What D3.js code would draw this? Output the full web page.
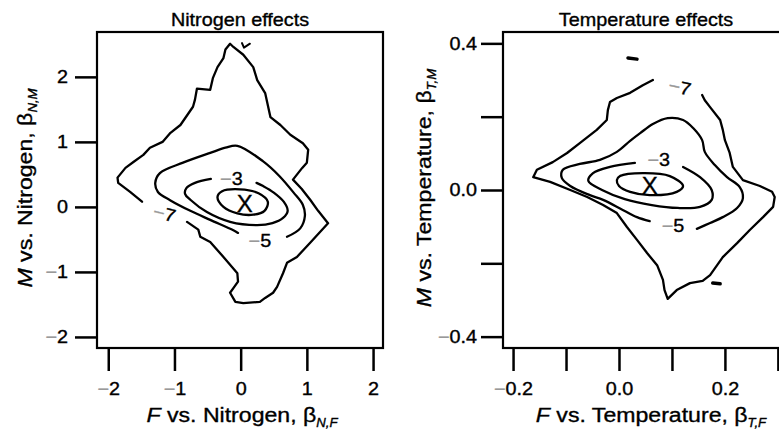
<!DOCTYPE html>
<html>
<head>
<meta charset="utf-8">
<script src="https://cdn.jsdelivr.net/npm/d3@7"></script>
<style>
  body { margin: 0; background: #fff; }
  svg { display: block; font-family: "Liberation Sans", Arial, Helvetica, sans-serif; }
  text { stroke: #000; stroke-width: 0.35px; }
  tspan.grey { fill: #999; stroke: #999; }
</style>
</head>
<body>
<svg id="chart" width="779" height="431"></svg>
<script>
// ---- data ----
// Nitrogen panel: contour lines as [beta_NF, beta_NM]
var nitroXTicks = [-2, -1, 0, 1, 2];
var nitroYTicks = [-2, -1, 0, 1, 2];

var nitroC7 = [[-0.81,-0.23],[-0.64,-0.35],[-0.61,-0.46],[-0.46,-0.54],[-0.26,-0.77],[-0.05,-1.02],
  [-0.04,-1.15],[-0.11,-1.25],[-0.16,-1.32],[-0.08,-1.46],[0.04,-1.48],[0.29,-1.46],[0.37,-1.40],
  [0.49,-1.32],[0.55,-1.23],[0.64,-1.02],[0.70,-0.86],[0.85,-0.77],[1.05,-0.55],[1.32,-0.25],
  [1.17,-0.06],[1.05,0.11],[0.92,0.28],[0.79,0.42],[0.93,0.60],[1.00,0.68],[1.02,0.88],[0.94,0.98],
  [0.75,1.11],[0.60,1.26],[0.45,1.38],[0.37,1.75],[0.25,1.95],[0.19,2.15],[0.04,2.34],[-0.11,2.46],
  [-0.16,2.51],[-0.23,2.42],[-0.26,2.29],[-0.35,2.15],[-0.42,1.98],[-0.46,1.80],[-0.66,1.82],
  [-0.69,1.65],[-0.72,1.54],[-0.91,1.26],[-1.06,1.14],[-1.18,1.00],[-1.37,0.91],[-1.47,0.80],
  [-1.62,0.69],[-1.74,0.60],[-1.86,0.45],[-1.85,0.37],[-1.67,0.23],[-1.49,0.08]];
var nitroC5 = [[0.70,-0.46],[0.90,-0.33],[0.97,-0.14],[0.94,0.03],[0.80,0.22],[0.58,0.48],
  [0.34,0.70],[-0.05,0.94],[-0.23,0.91],[-0.46,0.83],[-0.87,0.68],[-1.22,0.52],[-1.29,0.37],
  [-1.25,0.23],[-1.06,0.10],[-0.76,-0.06],[-0.46,-0.20],[-0.11,-0.36],[-0.04,-0.40]];
var nitroC3 = [[-0.45,0.43],[-0.69,0.37],[-0.82,0.29],[-0.84,0.20],[-0.76,0.11],[-0.51,-0.08],
  [-0.16,-0.23],[0.25,-0.28],[0.48,-0.25],[0.64,-0.17],[0.71,-0.06],[0.65,0.08],[0.50,0.22],
  [0.34,0.32],[0.24,0.37]];
var nitroC1 = [[-0.35,0.15],[-0.28,0.24],[-0.01,0.27],[0.27,0.21],[0.41,0.08],[0.36,-0.06],
  [0.19,-0.12],[-0.05,-0.10],[-0.26,0.00]];
var nitroFrag = [[0.02,2.52],[0.05,2.45],[0.14,2.51]];
var nitroLabels = [{x: -0.14, y: 0.44, t: "−3", r: 0}, {x: 0.29, y: -0.52, t: "−5", r: 0},
  {x: -1.15, y: -0.10, t: "−7", r: 14}];
var nitroMax = [0.06, 0.06];

// Temperature panel: contour lines as [beta_TF, beta_TM]
var tempXTicks = [-0.2, -0.1, 0, 0.1, 0.2, 0.3];
var tempXLabelled = [-0.2, 0, 0.2];
var tempYTicks = [-0.4, -0.2, 0, 0.2, 0.4];
var tempYLabelled = [-0.4, 0, 0.4];

var tempC7 = [[0.157,0.259],[0.162,0.245],[0.172,0.226],[0.191,0.191],[0.196,0.164],[0.200,0.136],
  [0.209,0.101],[0.215,0.063],[0.234,0.027],[0.266,0.011],[0.289,-0.005],[0.294,-0.019],
  [0.291,-0.046],[0.272,-0.074],[0.247,-0.109],[0.223,-0.145],[0.196,-0.183],[0.172,-0.232],
  [0.158,-0.248],[0.134,-0.254],[0.109,-0.273],[0.092,-0.297],[0.086,-0.273],[0.083,-0.245],
  [0.072,-0.205],[0.053,-0.172],[0.034,-0.136],[0.015,-0.101],[-0.004,-0.063],[-0.030,-0.041],
  [-0.060,-0.019],[-0.092,0.000],[-0.130,0.022],[-0.162,0.035],[-0.155,0.055],[-0.125,0.076],
  [-0.098,0.101],[-0.074,0.128],[-0.042,0.164],[-0.023,0.191],[-0.021,0.218],[-0.017,0.240],
  [-0.004,0.251],[0.021,0.265],[0.045,0.286],[0.064,0.300]];
var tempC5 = [[0.147,-0.106],[0.172,-0.090],[0.196,-0.074],[0.223,-0.049],[0.234,-0.022],
  [0.228,0.008],[0.204,0.035],[0.181,0.068],[0.162,0.104],[0.157,0.136],[0.140,0.169],
  [0.121,0.191],[0.092,0.196],[0.064,0.180],[0.040,0.155],[0.021,0.134],[-0.004,0.104],
  [-0.036,0.082],[-0.074,0.071],[-0.106,0.055],[-0.108,0.033],[-0.092,0.011],[-0.055,-0.014],
  [-0.030,-0.027],[0.008,-0.055],[0.034,-0.074],[0.058,-0.085]];
var tempC3 = [[0.121,0.063],[0.153,0.035],[0.175,0.000],[0.175,-0.027],[0.153,-0.046],
  [0.111,-0.049],[0.062,-0.041],[0.011,-0.025],[-0.032,0.000],[-0.058,0.025],[-0.049,0.046],
  [-0.017,0.063],[0.030,0.074]];
var tempC1 = [[-0.004,0.027],[0.002,0.038],[0.045,0.046],[0.096,0.038],[0.121,0.011],
  [0.109,-0.005],[0.058,-0.014],[0.021,-0.005],[0.000,0.011]];
var tempFragA = [[0.017,0.360],[0.034,0.357]];
var tempFragB = [[0.177,-0.254],[0.191,-0.256]];
var tempLabels = [{x: 0.075, y: 0.083, t: "−3", r: 0}, {x: 0.102, y: -0.098, t: "−5", r: 0},
  {x: 0.115, y: 0.281, t: "−7", r: 12}];
var tempMax = [0.058, 0.014];

// ---- drawing ----
var svg = d3.select("#chart");
var SX = 1.1; // the figure's lettering is a bit wider than Liberation Sans

// put the minus in grey like the scanned figure, and widen the glyphs
function fixText(sel) {
  sel.each(function() {
    var t = d3.select(this);
    var s = t.text();
    var x = +t.attr("x") || 0, y = +t.attr("y") || 0;
    t.attr("x", null).attr("y", null)
      .attr("transform", "translate(" + x + "," + y + ") scale(" + SX + ",1)")
      .text(null);
    if (s.charAt(0) == "−") {
      t.append("tspan").attr("class", "grey").text("−");
      t.append("tspan").text(s.slice(1));
    } else {
      t.text(s);
    }
  });
}

// title with italic letter and subscript
function axisTitle(g, x, y, rot, lead, mid, sub) {
  var t = g.append("text")
    .attr("text-anchor", "middle")
    .attr("font-size", 21)
    .attr("transform", "translate(" + x + "," + y + ") rotate(" + rot + ") scale(" + SX + ",1)");
  t.append("tspan").attr("font-style", "italic").text(lead);
  t.append("tspan").text(mid);
  t.append("tspan").attr("font-style", "italic").attr("font-size", 12).attr("dy", 5).text(sub);
}

function panel(p) {
  var x = p.x, y = p.y;
  var g = svg.append("g");
  var x0 = x.range()[0], x1 = x.range()[1], yb = y.range()[0], yt = y.range()[1];

  var line = d3.line().x(function(d) { return x(d[0]); }).y(function(d) { return y(d[1]); });

  p.contours.forEach(function(c) {
    g.append("path")
      .attr("fill", "none")
      .attr("stroke", "#000")
      .attr("stroke-width", 2.3)
      .attr("stroke-linejoin", "round")
      .attr("stroke-linecap", "round")
      .attr("d", line.curve(c.curve)(c.pts));
  });
  p.frags.forEach(function(f) {
    g.append("path")
      .attr("fill", "none").attr("stroke", "#000")
      .attr("stroke-width", f.w).attr("stroke-linecap", "round").attr("stroke-linejoin", "round")
      .attr("d", line.curve(d3.curveLinear)(f.pts));
  });

  // contour level labels
  g.selectAll(".lev").data(p.labels).enter().append("text")
    .attr("class", "lev")
    .attr("font-size", 18)
    .attr("text-anchor", "middle")
    .attr("dy", "0.36em")
    .text(function(d) { return d.t; })
    .call(fixText)
    .attr("transform", function(d) {
      return "translate(" + x(d.x) + "," + y(d.y) + ") rotate(" + d.r + ") scale(" + SX + ",1)";
    });

  // maximum marker
  g.append("text")
    .attr("x", x(p.mark[0])).attr("y", y(p.mark[1]))
    .attr("dy", "0.36em").attr("text-anchor", "middle")
    .attr("font-size", 24)
    .text("X");

  // box
  g.append("rect")
    .attr("x", x0).attr("y", yt).attr("width", x1 - x0).attr("height", yb - yt)
    .attr("fill", "none").attr("stroke", "#000").attr("stroke-width", 2.2);

  // axes
  var gx = g.append("g")
    .attr("transform", "translate(0," + (yb + 1) + ")")
    .call(d3.axisBottom(x).tickValues(p.xTicks).tickSize(22).tickPadding(11)
      .tickFormat(function(d) { return p.xLab.indexOf(d) >= 0 ? p.fmt(d) : ""; }));
  var gy = g.append("g")
    .attr("transform", "translate(" + (x0 - 1) + ",0)")
    .call(d3.axisLeft(y).tickValues(p.yTicks).tickSize(21).tickPadding(p.yPad)
      .tickFormat(function(d) { return p.yLab.indexOf(d) >= 0 ? p.fmt(d) : ""; }));
  [gx, gy].forEach(function(a) {
    a.attr("font-size", 18).attr("font-family", null);
    a.select(".domain").remove();
    a.selectAll(".tick line").attr("stroke", "#000").attr("stroke-width", 2.5);
    a.selectAll(".tick text").attr("fill", "#000").call(fixText);
  });

  // titles
  g.append("text")
    .attr("text-anchor", "middle").attr("font-size", 18)
    .attr("x", (x0 + x1) / 2).attr("y", 26)
    .text(p.title).call(fixText);
  axisTitle(g, p.xtX, 422, 0, "F", p.xtMid, p.xtSub);
  axisTitle(g, p.ytX, 188, -90, "M", p.ytMid, p.ytSub);
}

panel({
  x: d3.scaleLinear().domain([-2.17, 2.15]).range([97, 383]),
  y: d3.scaleLinear().domain([-2.17, 2.69]).range([348, 32]),
  xTicks: nitroXTicks, xLab: nitroXTicks,
  yTicks: nitroYTicks, yLab: nitroYTicks, yPad: 7,
  fmt: d3.format("d"),
  contours: [
    {pts: nitroC7, curve: d3.curveLinear},
    {pts: nitroC5, curve: d3.curveCatmullRom},
    {pts: nitroC3, curve: d3.curveCatmullRom},
    {pts: nitroC1, curve: d3.curveCatmullRomClosed}
  ],
  frags: [{pts: nitroFrag, w: 2}],
  labels: nitroLabels, mark: nitroMax,
  title: "Nitrogen effects",
  xtX: 242, xtMid: " vs. Nitrogen, β", xtSub: "N,F",
  ytX: 32, ytMid: " vs. Nitrogen, β", ytSub: "N,M"
});

panel({
  x: d3.scaleLinear().domain([-0.219, 0.321]).range([503, 789]),
  y: d3.scaleLinear().domain([-0.431, 0.431]).range([348, 32]),
  xTicks: tempXTicks, xLab: tempXLabelled,
  yTicks: tempYTicks, yLab: tempYLabelled, yPad: 4,
  fmt: d3.format(".1f"),
  contours: [
    {pts: tempC7, curve: d3.curveLinear},
    {pts: tempC5, curve: d3.curveCatmullRom},
    {pts: tempC3, curve: d3.curveCatmullRom},
    {pts: tempC1, curve: d3.curveCatmullRomClosed}
  ],
  frags: [{pts: tempFragA, w: 3.5}, {pts: tempFragB, w: 3.5}],
  labels: tempLabels, mark: tempMax,
  title: "Temperature effects",
  xtX: 651, xtMid: " vs. Temperature, β", xtSub: "T,F",
  ytX: 431, ytMid: " vs. Temperature, β", ytSub: "T,M"
});
</script>
</body>
</html>
